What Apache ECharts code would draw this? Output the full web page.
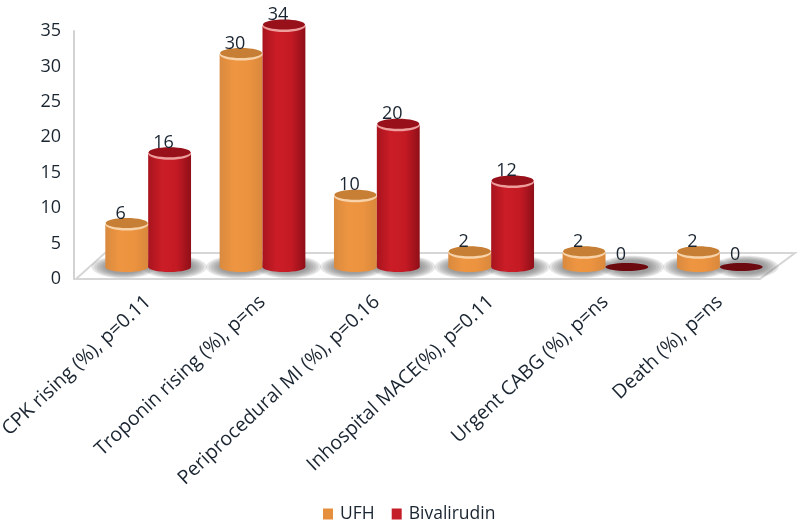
<!DOCTYPE html>
<html><head><meta charset="utf-8">
<style>html,body{margin:0;padding:0;background:#fff}#c{width:800px;height:526px;filter:blur(0.4px)}</style>
<script src="https://cdn.jsdelivr.net/npm/echarts@6/dist/echarts.min.js"></script>
</head><body><div id="c"></div>
<script>
const categories = ['CPK rising (%), p=0.11','Troponin rising (%), p=ns','Periprocedural MI (%), p=0.16','Inhospital MACE(%), p=0.11','Urgent CABG (%), p=ns','Death (%), p=ns'];
const ufh = [6,30,10,2,2,2];
const bivalirudin = [16,34,20,12,0,0];
const seriesNames = ['UFH','Bivalirudin'];

const FONT = '"Open Sans","Noto Sans",sans-serif';
const TEXT = '#1a2531';
const FLOOR_LIFT = 12;
const SHADOW_LAYERS = [1.5,1.38,1.26,1.14,1.02,0.9];

function grad(stops){
  return {type:'linear',x:0,y:0,x2:1,y2:0,colorStops:stops.map((c,i)=>({offset:i/(stops.length-1),color:c}))};
}
const looks = {
  UFH:{side:-1,shadowShift:-3,body:grad(['#d98a3f','#ee9541','#ec9340','#d9883c']),top:'#c67f34',rim:'#f8d3aa',zero:'#c67f34'},
  Bivalirudin:{side:1,shadowShift:5,body:grad(['#a8141e','#cb1d27','#c41a24','#8f0f18']),top:'#98111a',rim:'#ee9d9d',zero:'#6d0a10'}
};

function cylinder(name){
  const look = looks[name];
  return function(params, api){
    const i = api.value(0), v = api.value(1);
    const band = api.size([1,0])[0];
    const w = band*0.375, rx = w/2, ry = 6;
    const cx = api.coord([i,0])[0] + look.side*rx;
    const y0 = api.coord([i,0])[1] - FLOOR_LIFT;
    const y1 = api.coord([i,v])[1] - FLOOR_LIFT;
    const kids = SHADOW_LAYERS.map(k=>({
      type:'ellipse',z2:1,shape:{cx:cx+look.shadowShift,cy:y0,rx:rx*k,ry:7.5*k},
      style:{fill:'rgba(110,110,110,0.17)'}
    }));
    if(v>0){
      kids.push(
        {type:'rect',z2:10,shape:{x:cx-rx,y:y1,width:w,height:y0-y1},style:{fill:look.body}},
        {type:'ellipse',z2:10,shape:{cx:cx,cy:y0,rx:rx,ry:ry-1},style:{fill:look.body}},
        {type:'ellipse',z2:11,shape:{cx:cx,cy:y1,rx:rx,ry:ry},style:{fill:look.rim}},
        {type:'ellipse',z2:12,shape:{cx:cx,cy:y1-1.5,rx:rx-0.5,ry:ry-1},style:{fill:look.top}}
      );
    } else {
      kids.push({type:'ellipse',z2:10,shape:{cx:cx,cy:y0,rx:rx,ry:4},style:{fill:look.zero}});
    }
    kids.push({type:'text',z2:20,style:{text:String(v),x:cx-6,y:y1-(v>0?2:3),align:'center',verticalAlign:'bottom',
      font:'18px '+FONT,fill:TEXT}});
    return {type:'group',children:kids};
  };
}

const chart = echarts.init(document.getElementById('c'),null,{renderer:'canvas'});
chart.setOption({
  animation:false,
  backgroundColor:'#fff',
  textStyle:{fontFamily:FONT},
  grid:{left:91,top:31,width:686,height:248,containLabel:false,outerBoundsMode:'none'},
  legend:{
    data:seriesNames,left:318,top:500,icon:'rect',itemWidth:10,itemHeight:11,itemGap:17,
    textStyle:{fontFamily:FONT,fontSize:17.5,color:TEXT,padding:[0,0,0,2]}
  },
  graphic:[{
    type:'polygon',z:0,silent:true,
    shape:{points:[[76,279],[760,279],[795,253],[105,253]]},
    style:{fill:'#fff',stroke:'#d6d6d6',lineWidth:2}
  }],
  xAxis:{
    type:'category',data:categories,
    axisLine:{show:false},axisTick:{show:false},
    axisLabel:{rotate:43,interval:0,margin:20,fontSize:19.5,color:TEXT,fontFamily:FONT}
  },
  yAxis:{
    type:'value',min:0,max:35,interval:5,offset:17,
    axisLine:{show:true,lineStyle:{color:'#d2d2d2',width:2}},
    axisTick:{show:false},splitLine:{show:false},
    axisLabel:{margin:13,fontSize:18,color:TEXT,fontFamily:FONT,padding:[3,0,0,0]}
  },
  series:[
    {name:'UFH',type:'custom',coordinateSystem:'cartesian2d',clip:false,renderItem:cylinder('UFH'),
      itemStyle:{color:'#e58e3c'},encode:{x:0,y:1},data:ufh.map((v,i)=>[i,v])},
    {name:'Bivalirudin',type:'custom',coordinateSystem:'cartesian2d',clip:false,renderItem:cylinder('Bivalirudin'),
      itemStyle:{color:'#c41e28'},encode:{x:0,y:1},data:bivalirudin.map((v,i)=>[i,v])}
  ]
});
</script></body></html>
